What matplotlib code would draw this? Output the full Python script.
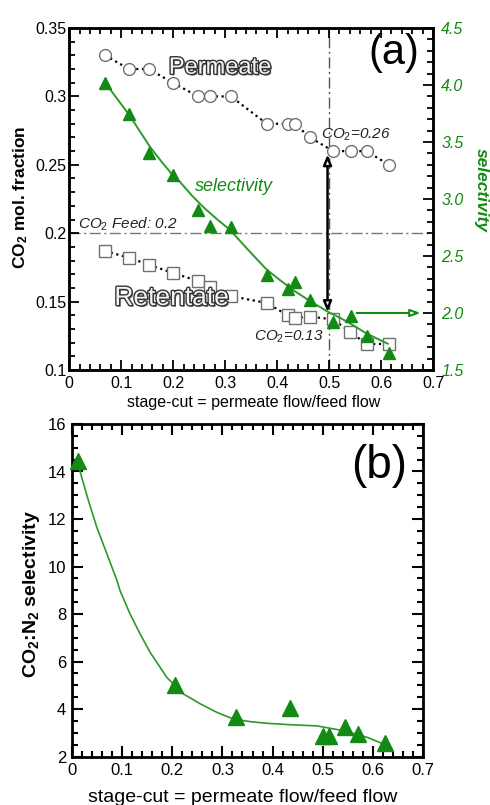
import matplotlib
matplotlib.use('Agg')
import matplotlib.pyplot as plt
import matplotlib.patheffects as pe
from matplotlib.ticker import MultipleLocator

plt.rcParams['font.family'] = ['Liberation Sans', 'DejaVu Sans']
plt.rcParams['mathtext.fontset'] = 'custom'
plt.rcParams['mathtext.rm'] = 'Liberation Sans'
plt.rcParams['mathtext.it'] = 'Liberation Sans:italic'
plt.rcParams['mathtext.bf'] = 'Liberation Sans:bold'

# ---------------- data: panel (a) ----------------
perm_x = [0.069, 0.115, 0.153, 0.199, 0.248, 0.271, 0.311, 0.380, 0.420, 0.434,
          0.463, 0.508, 0.543, 0.572, 0.615]
perm_y = [0.33, 0.32, 0.32, 0.31, 0.30, 0.30, 0.30, 0.28, 0.28, 0.28,
          0.27, 0.26, 0.26, 0.26, 0.25]
ret_x = [0.069, 0.115, 0.153, 0.199, 0.248, 0.271, 0.311, 0.380, 0.420, 0.434,
         0.463, 0.508, 0.540, 0.572, 0.615]
ret_y = [0.187, 0.182, 0.177, 0.171, 0.165, 0.161, 0.154, 0.149, 0.140, 0.138,
         0.139, 0.137, 0.128, 0.119, 0.119]
sel_x = [0.069, 0.115, 0.153, 0.199, 0.248, 0.271, 0.311, 0.380, 0.420, 0.434,
         0.463, 0.508, 0.543, 0.572, 0.615]
sel_y = [4.02, 3.75, 3.40, 3.21, 2.90, 2.76, 2.75, 2.33, 2.21, 2.27,
         2.11, 1.92, 1.97, 1.80, 1.65]
sel_fit_x = [0.069, 0.092, 0.115, 0.135, 0.155, 0.177, 0.199, 0.213, 0.236, 0.260,
             0.285, 0.309, 0.345, 0.380, 0.405, 0.431, 0.465, 0.498, 0.520, 0.540,
             0.572, 0.613]
sel_fit_y = [4.02, 3.88, 3.74, 3.60, 3.46, 3.33, 3.21, 3.15, 3.03, 2.92,
             2.82, 2.73, 2.55, 2.38, 2.29, 2.20, 2.10, 2.01, 1.96, 1.91,
             1.82, 1.73]
a_xticks = [0, 0.1, 0.2, 0.3, 0.4, 0.5, 0.6, 0.7]
a_xticklabels = ['0', '0.1', '0.2', '0.3', '0.4', '0.5', '0.6', '0.7']
a_yticks = [0.1, 0.15, 0.2, 0.25, 0.3, 0.35]
a_yticklabels = ['0.1', '0.15', '0.2', '0.25', '0.3', '0.35']
a_y2ticks = [1.5, 2.0, 2.5, 3.0, 3.5, 4.0, 4.5]
a_y2ticklabels = ['1.5', '2.0', '2.5', '3.0', '3.5', '4.0', '4.5']

# ---------------- data: panel (b) ----------------
b_x = [0.013, 0.205, 0.327, 0.435, 0.501, 0.513, 0.545, 0.569, 0.624]
b_y = [14.45, 5.0, 3.65, 4.05, 2.88, 2.88, 3.26, 2.95, 2.57]
b_fit_x = [0.013, 0.022, 0.033, 0.050, 0.070, 0.090, 0.096, 0.116, 0.136, 0.156,
           0.176, 0.189, 0.205, 0.222, 0.256, 0.289, 0.322, 0.355, 0.388, 0.435,
           0.488, 0.541, 0.588, 0.624]
b_fit_y = [14.3, 13.6, 12.8, 11.65, 10.54, 9.42, 9.0, 8.01, 7.17, 6.39,
           5.76, 5.34, 5.0, 4.64, 4.22, 3.86, 3.58, 3.47, 3.40, 3.34,
           3.29, 3.09, 2.81, 2.50]
b_yticks = [2, 4, 6, 8, 10, 12, 14, 16]
b_yticklabels = ['2', '4', '6', '8', '10', '12', '14', '16']

GREEN = '#138a13'
LGREEN = '#2b9a2b'

fig = plt.figure(figsize=(4.9, 8.05), dpi=100)

# ================= panel (a) =================
ax = fig.add_axes([0.1414, 0.5404, 0.7423, 0.4248])
ax.set_xlim(0, 0.7)
ax.set_ylim(0.1, 0.35)
ax2 = ax.twinx()
ax2.set_ylim(1.5, 4.5)

# reference lines
ax.plot([0, 0.7], [0.2, 0.2], color='#777777', lw=1.0, ls=(0, (8, 2.5, 1.5, 2.5)), zorder=1)
ax.plot([0.5, 0.5], [0.1, 0.35], color='#555555', lw=1.0, ls=(0, (8, 2.5, 1.5, 2.5)), zorder=1)

ax.plot(perm_x, perm_y, ls=(0, (1, 1.6)), color='black', lw=1.6,
        marker='o', ms=8.5, mfc='white', mec='#707070', mew=1.0, zorder=3)
ax.plot(ret_x, ret_y, ls=(0, (1, 1.6)), color='black', lw=1.6,
        marker='s', ms=8.5, mfc='white', mec='#707070', mew=1.0, zorder=3)

ax2.plot(sel_fit_x, sel_fit_y, color=LGREEN, lw=1.4, zorder=2)
ax2.plot(sel_x, sel_y, ls='none', marker='^', ms=8.5, color=GREEN, zorder=3)

# arrows
ax2.annotate('', xy=(0.497, 0.2575), xytext=(0.497, 0.1425),
             xycoords=ax.transData, textcoords=ax.transData,
             arrowprops=dict(arrowstyle='<|-|>,head_length=0.6,head_width=0.25',
                             color='black', lw=1.8, shrinkA=0, shrinkB=0,
                             fc='white'))
ax2.annotate('', xy=(0.676, 2.0), xytext=(0.553, 2.0),
             arrowprops=dict(arrowstyle='-|>,head_length=0.6,head_width=0.22',
                             color=GREEN, lw=1.5, shrinkA=0, shrinkB=0, fc='white'))

# texts
outline = [pe.withSimplePatchShadow(offset=(1.2, -1.2), shadow_rgbFace='#555555', alpha=0.9),
           pe.withStroke(linewidth=2.0, foreground='#333333')]
ax2.text(0.29, 0.321, 'Permeate', transform=ax.transData, fontsize=17,
         color='#f4f4f4', ha='center', va='center', path_effects=outline, zorder=6)
ax2.text(0.197, 0.1526, 'Retentate', transform=ax.transData, fontsize=19,
         color='#f4f4f4', ha='center', va='center', path_effects=outline, zorder=6)
ax2.text(0.625, 0.3317, '(a)', transform=ax.transData, fontsize=30,
         ha='center', va='center', zorder=6)
ax2.text(0.242, 0.234, 'selectivity', transform=ax.transData, fontsize=13,
         color=GREEN, style='italic', ha='left', va='center', zorder=6)
ax2.text(0.017, 0.2005, r'$\mathit{CO}_{\mathit{2}}$ Feed: 0.2', transform=ax.transData,
         fontsize=11, style='italic', ha='left', va='bottom', color='#222222', zorder=6)
ax2.text(0.484, 0.2718, r'$\mathit{CO}_{\mathit{2}}$=0.26', transform=ax.transData,
         fontsize=11, style='italic', ha='left', va='center', color='#222222', zorder=6)
ax2.text(0.356, 0.1244, r'$\mathit{CO}_{\mathit{2}}$=0.13', transform=ax.transData,
         fontsize=11, style='italic', ha='left', va='center', color='#222222', zorder=6)

ax.set_xticks(a_xticks)
ax.set_xticklabels(a_xticklabels, fontsize=11.5)
ax.set_yticks(a_yticks)
ax.set_yticklabels(a_yticklabels, fontsize=11.5)
ax.xaxis.set_minor_locator(MultipleLocator(0.02))
ax.yaxis.set_minor_locator(MultipleLocator(0.01))
ax.tick_params(which='both', direction='in', top=True, right=False, width=1.3)
ax.tick_params(which='major', length=7)
ax.tick_params(which='minor', length=4)
ax.tick_params(axis='y', pad=2)
ax.tick_params(axis='x', pad=4)

ax2.set_yticks(a_y2ticks)
ax2.set_yticklabels(a_y2ticklabels, fontsize=11.5, color=GREEN, style='italic')
ax2.yaxis.set_minor_locator(MultipleLocator(0.1))
ax2.tick_params(which='both', direction='in', right=True, width=1.3)
ax2.tick_params(which='major', length=7, pad=6)
ax2.tick_params(which='minor', length=4)
for a in (ax, ax2):
    for s in a.spines.values():
        s.set_linewidth(1.8)

fig.text(21 / 490, 1 - 197 / 805, r'CO$_\mathbf{2}$ mol. fraction', rotation=90,
         fontsize=12.5, weight='bold', ha='center', va='center')
fig.text(481 / 490, 1 - 190 / 805, 'selectivity', rotation=270, fontsize=12.5,
         weight='bold', style='italic', color=GREEN, ha='center', va='center')
fig.text(254 / 490, 1 - 402 / 805, 'stage-cut = permeate flow/feed flow',
         fontsize=11.5, ha='center', va='center')

# ================= panel (b) =================
bx = fig.add_axes([0.1463, 0.0602, 0.7176, 0.4131])
bx.set_xlim(0, 0.7)
bx.set_ylim(2, 16)
bx.plot(b_fit_x, b_fit_y, color=LGREEN, lw=1.2, zorder=2)
bx.plot(b_x, b_y, ls='none', marker='^', ms=11, color=GREEN, zorder=3, clip_on=False)
bx.text(0.612, 14.23, '(b)', fontsize=33, ha='center', va='center')

bx.set_xticks(a_xticks)
bx.set_xticklabels(a_xticklabels, fontsize=12)
bx.set_yticks(b_yticks)
bx.set_yticklabels(b_yticklabels, fontsize=12)
bx.xaxis.set_minor_locator(MultipleLocator(0.02))
bx.yaxis.set_minor_locator(MultipleLocator(0.5))
bx.tick_params(which='both', direction='in', top=True, right=True, width=1.5)
bx.tick_params(which='major', length=8)
bx.tick_params(which='minor', length=4.5)
bx.tick_params(axis='y', pad=4)
bx.tick_params(axis='x', pad=5)
for s in bx.spines.values():
    s.set_linewidth(2.0)

fig.text(32 / 490, 1 - 594 / 805, r'CO$_\mathbf{2}$:N$_\mathbf{2}$ selectivity',
         rotation=90, fontsize=14, weight='bold', ha='center', va='center')
fig.text(243 / 490, 1 - 797 / 805, 'stage-cut = permeate flow/feed flow',
         fontsize=14, ha='center', va='center')

fig.savefig('out.png', dpi=100)
